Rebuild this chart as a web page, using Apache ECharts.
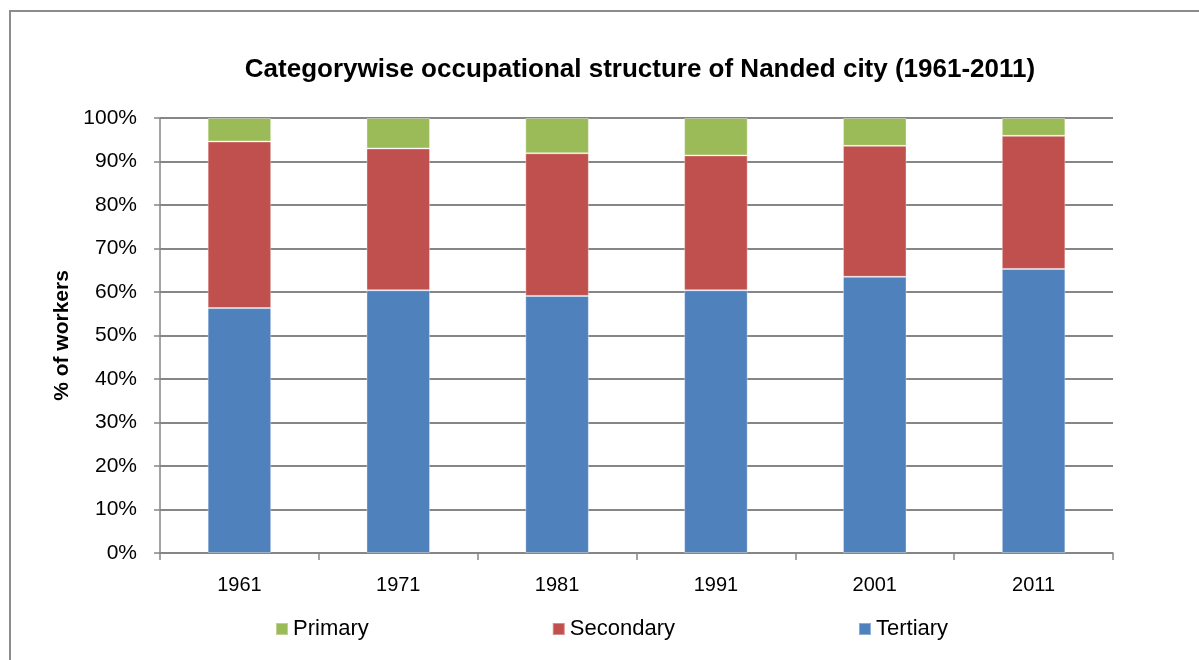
<!DOCTYPE html>
<html>
<head>
<meta charset="utf-8">
<script src="https://cdn.jsdelivr.net/npm/echarts@6/dist/echarts.min.js"></script>
<style>
  html, body { margin: 0; padding: 0; background: #fff; }
  #chart { width: 1199px; height: 660px; }
</style>
</head>
<body>
<div id="chart"></div>
<script>
// census years
const years = ['1961', '1971', '1981', '1991', '2001', '2011'];

// share of workers by sector, %
const tertiary = [56.3, 60.4, 59.1, 60.4, 63.5, 65.3];
const secondary = [38.3, 32.6, 32.8, 31.0, 30.1, 30.6];
const primary = [5.4, 7.0, 8.1, 8.6, 6.4, 4.1];

const yTicks = [0, 10, 20, 30, 40, 50, 60, 70, 80, 90, 100];

const FONT = '"Liberation Sans", Arial, sans-serif';
const GREY = '#868686';

const chart = echarts.init(document.getElementById('chart'));

const barSeries = (name, data, color) => ({
  name,
  type: 'bar',
  stack: 'total',
  data,
  barWidth: '40%',
  itemStyle: { color, borderColor: 'rgba(255,255,255,0.35)', borderWidth: 1 },
  emphasis: { disabled: true },
});

const option = {
  animation: false,
  backgroundColor: '#fff',
  textStyle: { fontFamily: FONT },
  graphic: [{
    type: 'rect',
    shape: { x: 10, y: 11, width: 1300, height: 800 },
    style: { fill: 'none', stroke: '#8c8c8c', lineWidth: 2 },
    silent: true,
    z: -1,
  }],
  title: {
    text: 'Categorywise occupational structure of Nanded city (1961-2011)',
    left: 635,
    textAlign: 'center',
    top: 52,
    textStyle: { fontFamily: FONT, fontSize: 26, fontWeight: 'bold', color: '#000' },
  },
  legend: {
    data: ['Primary', 'Secondary', 'Tertiary'],
    left: 270,
    top: 613,
    itemWidth: 12,
    itemHeight: 12,
    itemGap: 183,
    icon: 'rect',
    textStyle: { fontFamily: FONT, fontSize: 22, color: '#000' },
  },
  grid: { left: 160, right: 86, top: 118, bottom: 107, containLabel: false },
  xAxis: {
    type: 'category',
    data: years,
    boundaryGap: true,
    axisLine: { lineStyle: { color: GREY, width: 1.5 } },
    axisTick: { show: true, length: 7, lineStyle: { color: GREY, width: 1.5 } },
    axisLabel: { margin: 22, fontSize: 20, color: '#000', fontFamily: FONT },
  },
  yAxis: {
    type: 'value',
    min: 0,
    max: 100,
    interval: 10,
    name: '% of workers',
    nameLocation: 'middle',
    nameGap: 84,
    nameTextStyle: { fontFamily: FONT, fontSize: 21, fontWeight: 'bold', color: '#000' },
    axisLine: { show: true, lineStyle: { color: GREY, width: 1.5 } },
    axisTick: { show: true, length: 6, lineStyle: { color: GREY, width: 1.5 } },
    axisLabel: {
      margin: 23,
      fontSize: 21,
      color: '#000',
      fontFamily: FONT,
      formatter: v => (yTicks.includes(v) ? v + '%' : ''),
    },
    splitLine: { lineStyle: { color: GREY, width: 2 } },
  },
  series: [
    barSeries('Tertiary', tertiary, '#4F81BD'),
    barSeries('Secondary', secondary, '#C0504D'),
    barSeries('Primary', primary, '#9BBB59'),
  ],
};

chart.setOption(option);
</script>
</body>
</html>
